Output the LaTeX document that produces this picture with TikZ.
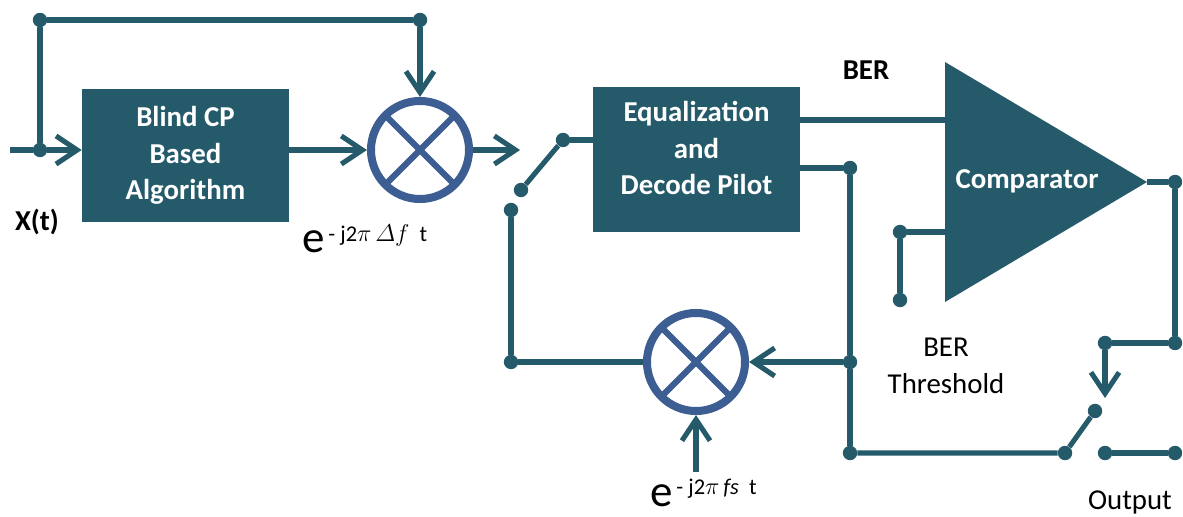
\documentclass[tikz,border=0pt]{standalone}
\usepackage{amsmath}
\usepackage{fontspec}
\setmainfont{Carlito}
\usetikzlibrary{arrows.meta}

\definecolor{blockteal}{HTML}{245A6A}
\definecolor{mixblue}{HTML}{3D5E92}

\newcommand{\expterm}[1]{{\fontsize{32}{32}\selectfont e}\raisebox{8pt}{\fontsize{16}{16}\selectfont\,#1}}

\begin{document}
\begin{tikzpicture}[x=0.025cm, y=-0.025cm,
  font=\fontsize{20.5}{26}\selectfont,
  wire/.style={draw=blockteal, line width=3.6pt},
  arrow/.style={wire, -{Straight Barb[length=15pt, width=20pt]}},
  dot/.style={circle, fill=blockteal, inner sep=0pt, minimum size=0.36cm},
  blockbox/.style={rectangle, fill=blockteal, text=white, inner sep=0pt,
    font=\fontsize{20.5}{26}\selectfont\bfseries, align=center},
  boxtext/.style={text=white, inner sep=0pt,
    font=\fontsize{20.5}{26}\selectfont\bfseries, align=center},
  txtlbl/.style={inner sep=0pt, align=center},
  mixer/.style={circle, draw=mixblue, line width=5.7pt, minimum size=2.45cm, inner sep=0pt,
    path picture={\draw[mixblue, line width=4.5pt]
      (path picture bounding box.north west) -- (path picture bounding box.south east)
      (path picture bounding box.south west) -- (path picture bounding box.north east);}}]

\useasboundingbox (0,0) rectangle (1183,517);

%ulaz i obilazna grana
\coordinate (xin) at (10,150);
\node[dot] (jin) at (40,150) {};
\node[dot] (tl) at (40,20) {};
\node[dot] (tr) at (420,20) {};
\node[txtlbl, font=\fontsize{20.5}{26}\selectfont\bfseries] (xt) at (37,222) {X(t)};

%prvi stupanj
\node[blockbox, minimum width=5.175cm, minimum height=3.325cm] (blind) at (185.5,155.5) {Blind CP\\Based\\Algorithm};
\node[mixer] (mix1) at (420,150) {};
\coordinate (mixout) at (520,150);
\node[anchor=base west, inner sep=0pt] (dflbl) at (302,253) {\expterm{- j2$\pi$\,$\varDelta f$\ \ t}};

\draw[wire] (xin) -- (jin);
\draw[arrow] (jin) -- (jin -| blind.west);
\draw[wire] (jin) -- (tl) -- (tr);
\draw[arrow] (tr) -- (mix1.north);
\draw[arrow] (blind.east |- mix1) -- (mix1.west);
\draw[arrow] (mix1.east) -- (mixout);

%sklopka ispred ekvalizatora
\node[dot] (swa) at (563,140) {};
\node[dot] (swb) at (521,190) {};
\node[dot] (swc) at (511,210) {};

%ekvalizator
\node[blockbox, minimum width=5.175cm, minimum height=3.625cm] (eq) at (696.5,159.5) {};
\node[boxtext] (eqtxt) at (696.5,148) {Equalization\\and\\Decode Pilot};

\draw[wire] (swa) -- (swa -| eq.west);
\draw[wire] (swb) -- (swa);

%komparator
\fill[blockteal] (945,62) -- (1147,182) -- (945,302) -- cycle;
\node[boxtext] (comp) at (1027,181) {Comparator};
\coordinate (cmpa) at (945,120);
\coordinate (cmpb) at (945,232);
\coordinate (cmpo) at (1147,182);
\node[txtlbl, font=\fontsize{20.5}{26}\selectfont\bfseries] (ber) at (866,70) {BER};
\draw[wire] (eq.east |- cmpa) -- (cmpa);

\node[dot] (thra) at (900,232) {};
\node[dot] (thrb) at (900,300) {};
\draw[wire] (cmpb) -- (thra) -- (thrb);
\node[txtlbl] (thr) at (946,366) {BER\\Threshold};

%povratna grana
\node[dot] (fba) at (850,168) {};
\node[dot] (fbb) at (850,362) {};
\node[dot] (fbc) at (850,453) {};
\draw[wire] (eq.east |- fba) -- (fba) -- (fbb) -- (fbc);

\node[mixer] (mix2) at (696,362) {};
\node[dot] (fbl) at (511,362) {};
\coordinate (fsin) at (696,472);
\node[anchor=base west, inner sep=0pt] (fslbl) at (650,506) {\expterm{- j2$\pi$\,$\mathit{fs}$\ \ t}};

\draw[arrow] (fbb) -- (mix2.east);
\draw[wire] (mix2.west) -- (fbl) -- (swc);
\draw[arrow] (fsin) -- (mix2.south);

%izlazna sklopka
\node[dot] (oa) at (1175,182) {};
\node[dot] (ob) at (1175,343) {};
\node[dot] (oc) at (1105,343) {};
\coordinate (od) at (1105,398);
\node[dot] (swd) at (1065,453) {};
\node[dot] (swe) at (1095,411) {};
\node[dot] (swf) at (1105,453) {};
\node[dot] (outr) at (1175,453) {};
\node[txtlbl] (outl) at (1130,502) {Output};

\draw[wire] (cmpo) -- (oa) -- (ob) -- (oc);
\draw[arrow] (oc) -- (od);
\draw[wire] (fbc) -- (swd) -- (swe);
\draw[wire] (swf) -- (outr);

\end{tikzpicture}
\end{document}
